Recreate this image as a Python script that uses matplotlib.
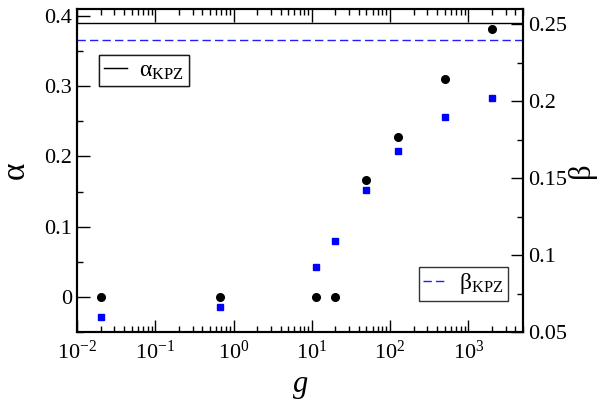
import matplotlib
matplotlib.use("Agg")
import matplotlib.pyplot as plt
from matplotlib.ticker import LogLocator, MultipleLocator, NullFormatter, FixedLocator

plt.rcParams['font.family'] = ['Liberation Serif', 'DejaVu Serif']
plt.rcParams['mathtext.fontset'] = 'custom'
plt.rcParams['mathtext.rm'] = 'Liberation Serif'
plt.rcParams['mathtext.it'] = 'Liberation Serif:italic'

g = [0.02, 0.68, 11.3, 20, 50, 125, 500, 2000]
alpha = [0.0, 0.0, 0.0, 0.0, 0.166, 0.227, 0.311, 0.382]
beta = [0.060, 0.066, 0.092, 0.109, 0.142, 0.168, 0.190, 0.202]
alpha_kpz = 0.39
beta_kpz = 0.24

fig = plt.figure(figsize=(6.06, 4.01), dpi=100)
ax = fig.add_axes([77/606, 69/401, 446/606, 323/401])
ax2 = ax.twinx()

ax.set_xscale('log')
ax.set_xlim(0.01, 5000)
ax.set_ylim(-0.05, 0.41)
ax2.set_ylim(0.05, 0.26)

l1 = ax.axhline(alpha_kpz, color='black', lw=1.0, label=r'α$_{\mathrm{KPZ}}$')
l2 = ax2.axhline(beta_kpz, color='#2020ff', lw=1.0, ls=(0, (6, 3)), label=r'β$_{\mathrm{KPZ}}$')
ax.plot(g, alpha, 'o', color='black', ms=5.5, ls='none')
ax2.plot(g, beta, 's', color='#0000ff', ms=4.8, ls='none')

ax.xaxis.set_major_locator(LogLocator(base=10, numticks=10))
ax.xaxis.set_minor_locator(LogLocator(base=10, subs=range(2, 10), numticks=20))
ax.xaxis.set_minor_formatter(NullFormatter())
ax.yaxis.set_major_locator(FixedLocator([0, 0.1, 0.2, 0.3, 0.4]))
ax.yaxis.set_minor_locator(MultipleLocator(0.05))
ax.set_yticklabels(['0', '0.1', '0.2', '0.3', '0.4'])
ax2.yaxis.set_major_locator(FixedLocator([0.05, 0.1, 0.15, 0.2, 0.25]))
ax2.yaxis.set_minor_locator(MultipleLocator(0.025))
ax2.set_yticklabels(['0.05', '0.1', '0.15', '0.2', '0.25'])

ax.tick_params(axis='x', which='both', direction='in', top=True, bottom=True, labelsize=16, pad=6)
ax.tick_params(axis='x', which='major', length=9, width=1)
ax.tick_params(axis='x', which='minor', length=4.5, width=1)
ax.tick_params(axis='y', which='both', direction='in', left=True, right=False, labelsize=16)
ax.tick_params(axis='y', which='major', length=9, width=1)
ax.tick_params(axis='y', which='minor', length=4.5, width=1)
ax2.tick_params(axis='y', which='both', direction='in', right=True, labelsize=16)
ax2.tick_params(axis='y', which='major', length=9, width=1)
ax2.tick_params(axis='y', which='minor', length=4.5, width=1)

for a in (ax, ax2):
    for s in a.spines.values():
        s.set_linewidth(1.5)

ax.set_xlabel(r'$g$', fontsize=22, labelpad=6)
ax.set_ylabel('α', fontsize=24, labelpad=10)
ax2.set_ylabel('β', fontsize=22, labelpad=0, rotation=90)

leg1 = ax.legend(handles=[l1], loc='upper left', bbox_to_anchor=((99-77)/446, (332-55)/323),
                 fontsize=17, frameon=True, fancybox=False, edgecolor='black', handlelength=1.0,
                 handletextpad=0.5, borderpad=0.2, borderaxespad=0)
leg1.get_frame().set_linewidth(1.0)
ax.add_artist(leg1)
leg2 = ax2.legend(handles=[l2], loc='lower right', bbox_to_anchor=((508-77)/446, (332-301)/323),
                  fontsize=17, frameon=True, fancybox=False, edgecolor='black', handlelength=1.0,
                  handletextpad=0.5, borderpad=0.2, borderaxespad=0)
leg2.get_frame().set_linewidth(1.0)

fig.savefig('out.png', dpi=100)
